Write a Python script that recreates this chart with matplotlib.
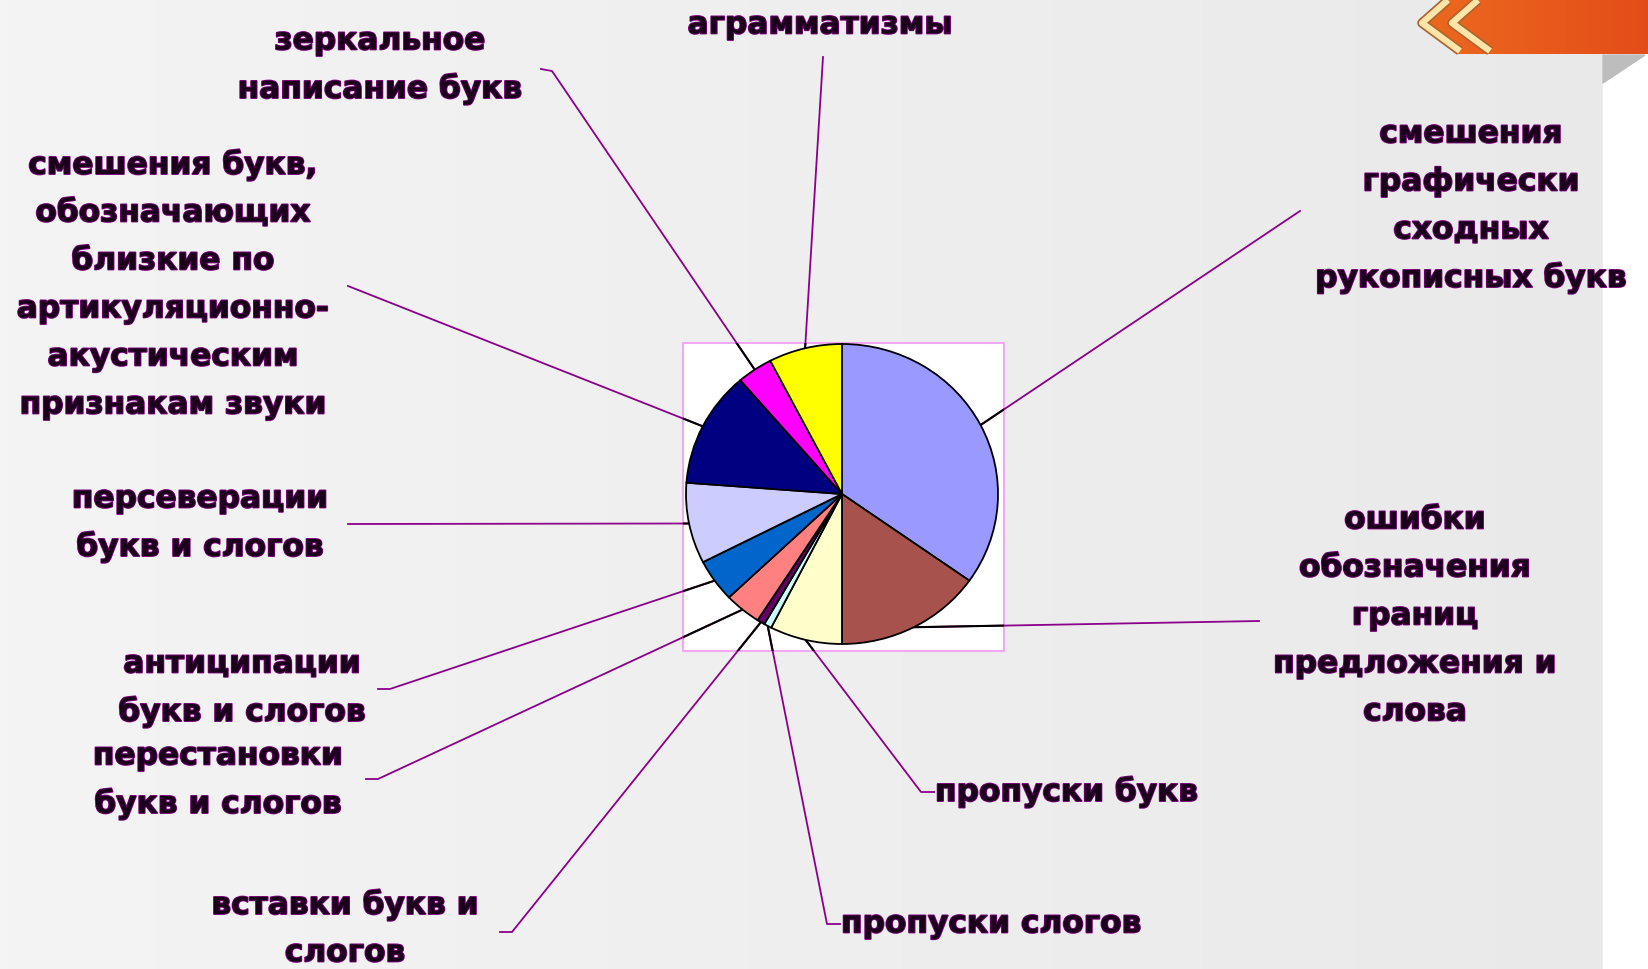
import matplotlib
matplotlib.use('Agg')
import matplotlib.pyplot as plt
import matplotlib.patheffects as pe
from matplotlib.patches import Rectangle, Polygon
import numpy as np

# Данные (доля ошибок, %), по часовой стрелке от 12 часов
categories = [
    'смешения графически сходных рукописных букв',
    'ошибки обозначения границ предложения и слова',
    'пропуски букв',
    'пропуски слогов',
    'вставки букв и слогов',
    'перестановки букв и слогов',
    'антиципации букв и слогов',
    'персеверации букв и слогов',
    'смешения букв, обозначающих близкие по артикуляционно-акустическим признакам звуки',
    'зеркальное написание букв',
    'аграмматизмы',
]
values = [34.8, 15.2, 7.5, 0.8, 0.8, 3.8, 4.6, 8.7, 12.5, 3.7, 7.6]
colors = ['#9999FF', '#A8524E', '#FFFFCC', '#CCFFFF', '#660066', '#FF8080',
          '#0066CC', '#CCCCFF', '#000080', '#FF00FF', '#FFFF00']

# подписи так, как они разбиты на строки
label_lines = [
    ['смешения', 'графически', 'сходных', 'рукописных букв'],
    ['ошибки', 'обозначения', 'границ', 'предложения и', 'слова'],
    ['пропуски букв'],
    ['пропуски слогов'],
    ['вставки букв и', 'слогов'],
    ['перестановки', 'букв и слогов'],
    ['антиципации', 'букв и слогов'],
    ['персеверации', 'букв и слогов'],
    ['смешения букв,', 'обозначающих', 'близкие по', 'артикуляционно-', 'акустическим', 'признакам звуки'],
    ['зеркальное', 'написание букв'],
    ['аграмматизмы'],
]

# положение подписей (пиксели): x, y первой строки, выравнивание
label_pos = [(1471, 135, 'center'), (1415, 521, 'center'), (935, 793, 'left'),
             (841, 925, 'left'), (345, 906, 'center'), (218, 757, 'center'),
             (242, 665, 'center'), (200, 500, 'center'), (173, 166, 'center'),
             (380, 42, 'center'), (820, 26, 'center')]
# начало выносных линий у подписи
leader_start = [
    [(1300, 212)],
    [(1259, 622)],
    [(934, 793), (921, 793)],
    [(840, 925), (827, 925)],
    [(500, 933), (512, 933)],
    [(366, 780), (378, 780)],
    [(378, 690), (390, 690)],
    [(348, 525)],
    [(348, 287)],
    [(541, 70), (552, 72)],
    [(823, 58)],
]

W, H = 1648, 970
fig = plt.figure(figsize=(W / 100, H / 100), dpi=100)

bg = fig.add_axes([0, 0, 1, 1])
bg.set_xlim(0, W)
bg.set_ylim(H, 0)
bg.axis('off')

# фон слайда
grad = np.linspace(0.957, 0.915, 256).reshape(1, -1)
bg.imshow(np.dstack([grad, grad, grad]), extent=(0, 1603, H, 0), aspect='auto', zorder=0)
bg.add_patch(Rectangle((1603, 0), W - 1603, H, color='white', zorder=1))

# оранжевая плашка в углу
banner = Polygon([(1450, 0), (W, 0), (W, 55), (1458, 55), (1418, 26)], closed=True,
                 facecolor='none', edgecolor='none', zorder=2)
bg.add_patch(banner)
og = np.linspace(0, 1, 256).reshape(1, -1)
orange = np.dstack([0.93 - 0.04 * og, 0.42 - 0.12 * og, 0.12 - 0.02 * og])
im = bg.imshow(orange, extent=(1410, W, 56, 0), aspect='auto', zorder=2)
im.set_clip_path(banner)
for dx in (0, 30):
    bg.plot([1448 + dx, 1422 + dx, 1460 + dx], [1, 24, 52], color='#FFE6A8', lw=4.5,
            solid_capstyle='butt', zorder=3,
            path_effects=[pe.withStroke(linewidth=7, foreground='#B0642E')])
bg.add_patch(Polygon([(1603, 56), (1645, 56), (1603, 84)], closed=True,
                     color='#BDBDBD', zorder=2))
bg.set_xlim(0, W)
bg.set_ylim(H, 0)

# область построения
box = Rectangle((683, 344), 321, 308, facecolor='white', edgecolor='#F2A8F2', lw=1.5, zorder=4)
bg.add_patch(box)

# круговая диаграмма
cx, cy, rx, ry = 842, 495, 156, 150
ax = fig.add_axes([(cx - rx) / W, 1 - (cy + ry) / H, 2 * rx / W, 2 * ry / H])
ax.patch.set_alpha(0)
wedges, _ = ax.pie(values, colors=colors, startangle=90, counterclock=False,
                   wedgeprops=dict(edgecolor='black', linewidth=1.3))
ax.set_xlim(-1, 1)
ax.set_ylim(-1, 1)
ax.set_aspect('auto')

txt_fx = [pe.withStroke(linewidth=1.3, foreground='#7A007A')]
for i, w in enumerate(wedges):
    mid = np.deg2rad((w.theta1 + w.theta2) / 2)
    px, py = cx + rx * np.cos(mid), cy - ry * np.sin(mid)
    pts = leader_start[i] + [(px, py)]
    xs = [p[0] for p in pts]
    ys = [p[1] for p in pts]
    bg.plot(xs, ys, color='#8B008B', lw=1.3, zorder=5)
    inner, = bg.plot(xs, ys, color='black', lw=1.5, zorder=6)
    inner.set_clip_path(box)

    x, y0, ha = label_pos[i]
    for j, line in enumerate(label_lines[i]):
        bg.text(x, y0 + j * 48, line, ha=ha, va='center', fontsize=22.5, fontweight='bold',
                color='#1A001A', path_effects=txt_fx, zorder=7)

fig.savefig('out.png', dpi=100)
